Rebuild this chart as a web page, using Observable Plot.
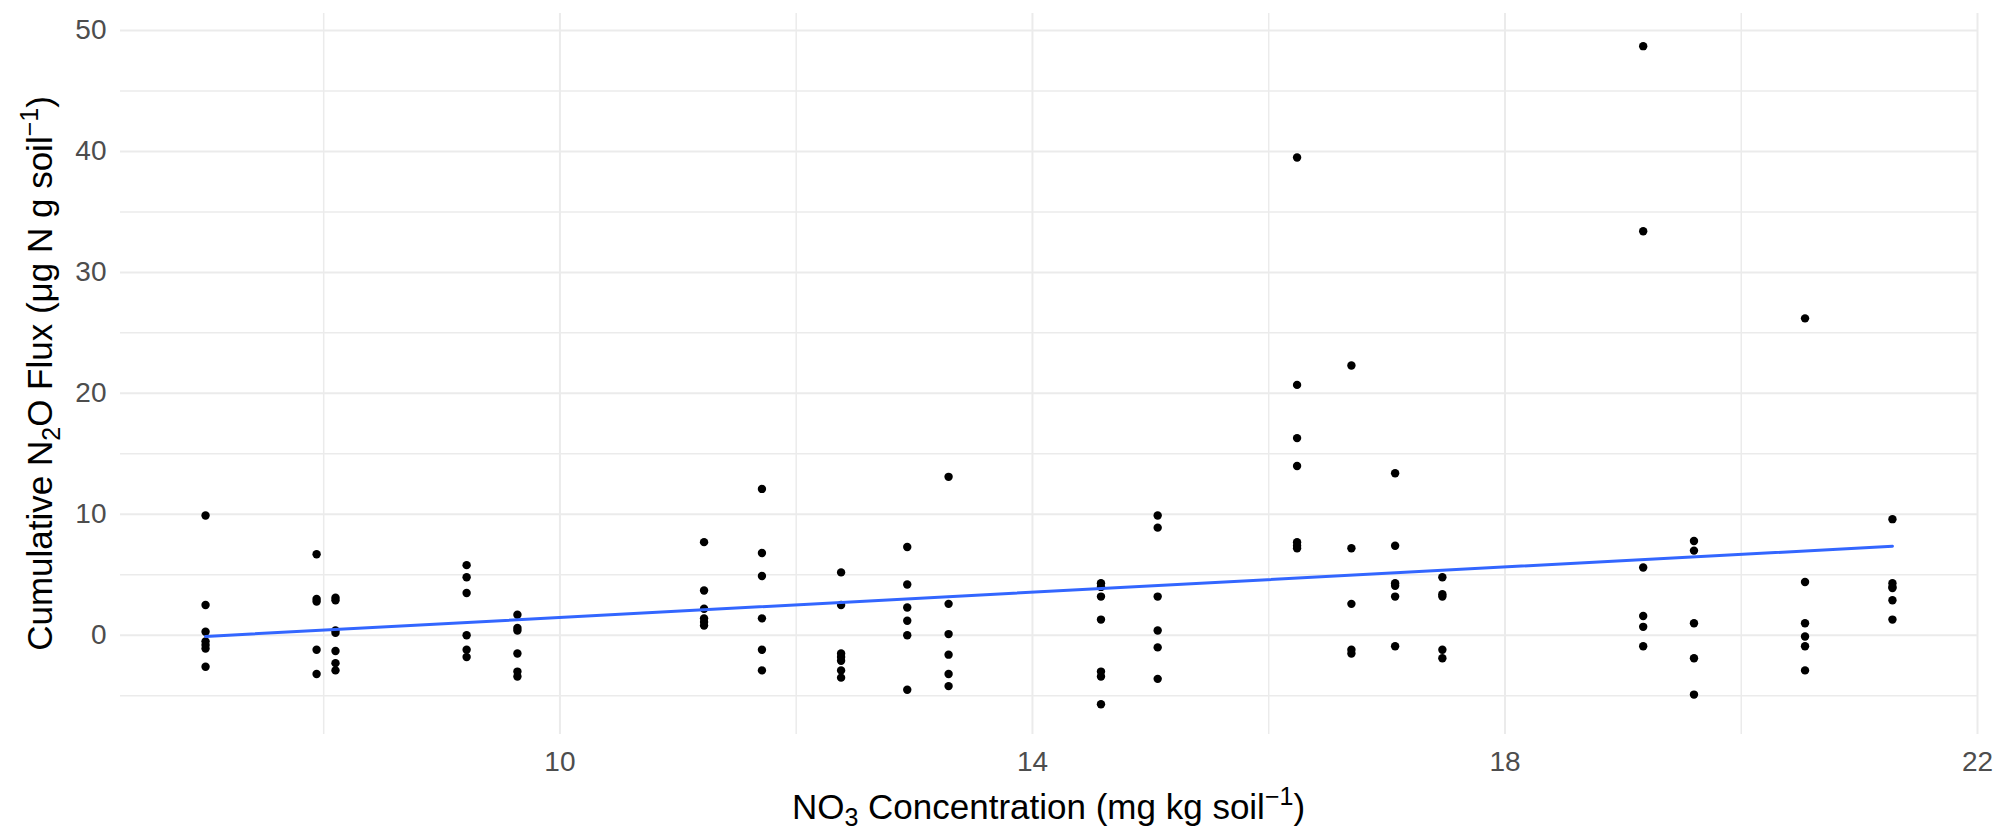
<!DOCTYPE html>
<html>
<head>
<meta charset="utf-8">
<script src="https://cdn.jsdelivr.net/npm/d3@7"></script>
<script src="https://cdn.jsdelivr.net/npm/@observablehq/plot@0.6"></script>
<style>
  html, body { margin: 0; padding: 0; background: #ffffff; }
  #chart svg { display: block; }
</style>
</head>
<body>
<div id="chart"></div>
<script>
// NO3 concentration levels (mg kg soil^-1), one per column of points
const nitrate = [7.00, 7.94, 8.10, 9.21, 9.64, 11.22, 11.71, 12.38, 12.94, 13.29,
                 14.58, 15.06, 16.24, 16.70, 17.07, 17.47, 19.17, 19.60, 20.54, 21.28];

// Cumulative N2O flux values (µg N g soil^-1) observed at each nitrate level
const flux = [
  [9.9, 2.5, 0.3, -0.5, -0.8, -1.1, -2.6],
  [6.7, 3.0, 2.8, -1.2, -3.2],
  [3.1, 2.9, 0.4, 0.2, -1.3, -2.3, -2.9],
  [5.8, 4.8, 3.5, 0.0, -1.2, -1.8],
  [1.7, 0.6, 0.4, -1.5, -3.0, -3.4],
  [7.7, 3.7, 2.2, 1.4, 1.1, 0.8],
  [12.1, 6.8, 4.9, 1.4, -1.2, -2.9],
  [5.2, 2.5, -1.5, -1.8, -2.1, -2.9, -3.5],
  [7.3, 4.2, 2.3, 1.2, 0.0, -4.5],
  [13.1, 2.6, 0.1, -1.6, -3.2, -4.2],
  [4.3, 4.0, 3.2, 1.3, -3.0, -3.4, -5.7],
  [9.9, 8.9, 3.2, 0.4, -1.0, -3.6],
  [39.5, 20.7, 16.3, 14.0, 7.7, 7.4, 7.2],
  [22.3, 7.2, 2.6, -1.2, -1.5],
  [13.4, 7.4, 4.3, 4.1, 3.2, -0.9],
  [4.8, 3.4, 3.2, -1.2, -1.9],
  [48.7, 33.4, 5.6, 1.6, 0.7, -0.9],
  [7.8, 7.0, 1.0, -1.9, -4.9],
  [26.2, 4.4, 1.0, -0.1, -0.9, -2.9],
  [9.6, 4.3, 4.0, 3.9, 2.9, 1.3]
];

// Axis ticks
const xMajor = [10, 14, 18, 22];
const xMinor = [8, 12, 16, 20];
const yMajor = [0, 10, 20, 30, 40, 50];
const yMinor = [-5, 5, 15, 25, 35, 45];

const points = nitrate.flatMap((x, i) => flux[i].map(y => ({x, y})));

const W = 1995, H = 831;
const mL = 120, mR = 18, mT = 13, mB = 97;
const font = "'Liberation Sans', Arial, sans-serif";
const grid = "#EBEBEB";

const svg = Plot.plot({
  width: W,
  height: H,
  marginLeft: mL,
  marginRight: mR,
  marginTop: mT,
  marginBottom: mB,
  style: {fontFamily: font, fontSize: "28px", background: "#ffffff", color: "#4D4D4D", overflow: "visible"},
  x: {domain: [6.28, 22.0], label: null},
  y: {domain: [-8.2, 51.4], label: null},
  marks: [
    Plot.gridX(xMinor, {stroke: grid, strokeOpacity: 1, strokeWidth: 1.5}),
    Plot.gridX(xMajor, {stroke: grid, strokeOpacity: 1, strokeWidth: 2}),
    Plot.gridY(yMinor, {stroke: grid, strokeOpacity: 1, strokeWidth: 1.5}),
    Plot.gridY(yMajor, {stroke: grid, strokeOpacity: 1, strokeWidth: 2}),
    Plot.axisX(xMajor, {tickSize: 0, tickPadding: 17, fontSize: 28, fill: "#4D4D4D", label: null, tickFormat: d => String(d)}),
    Plot.axisY(yMajor, {tickSize: 0, tickPadding: 14, fontSize: 28, fill: "#4D4D4D", label: null, tickFormat: d => String(d)}),
    Plot.dot(points, {x: "x", y: "y", r: 4.2, fill: "#000000", stroke: "none"}),
    Plot.linearRegressionY(points, {x: "x", y: "y", stroke: "#3366FF", strokeWidth: 3, ci: 0})
  ]
});

document.getElementById("chart").appendChild(svg);

const s = d3.select(svg);
const panelCx = (mL + (W - mR)) / 2;
const panelCy = (mT + (H - mB)) / 2;

// X axis title with subscript and superscript
const xt = s.append("text")
  .attr("x", panelCx)
  .attr("y", 819)
  .attr("text-anchor", "middle")
  .attr("font-family", font)
  .attr("font-size", 35)
  .attr("fill", "#000000");
xt.append("tspan").text("NO");
xt.append("tspan").attr("dy", 7).attr("font-size", 25).text("3");
xt.append("tspan").attr("dy", -7).text(" Concentration (mg kg soil");
xt.append("tspan").attr("dy", -14).attr("font-size", 25).text("\u22121");
xt.append("tspan").attr("dy", 14).text(")");

// Y axis title (rotated)
const yt = s.append("text")
  .attr("transform", `translate(52,${panelCy}) rotate(-90)`)
  .attr("text-anchor", "middle")
  .attr("font-family", font)
  .attr("font-size", 35)
  .attr("fill", "#000000");
yt.append("tspan").text("Cumulative N");
yt.append("tspan").attr("dy", 8).attr("font-size", 25).text("2");
yt.append("tspan").attr("dy", -8).text("O Flux (\u03BCg N g soil");
yt.append("tspan").attr("dy", -14).attr("font-size", 25).text("\u22121");
yt.append("tspan").attr("dy", 14).text(")");
</script>
</body>
</html>
